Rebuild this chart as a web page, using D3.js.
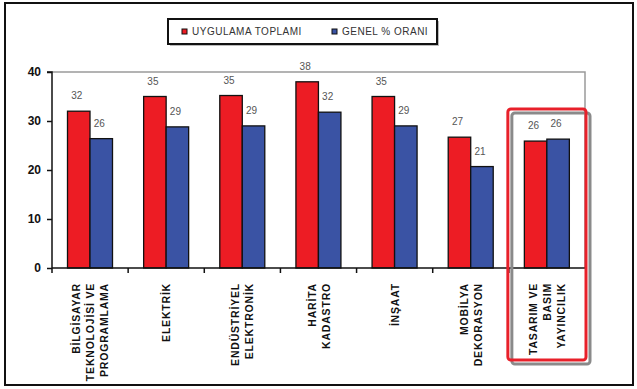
<!DOCTYPE html>
<html>
<head>
<meta charset="utf-8">
<script src="https://cdn.jsdelivr.net/npm/d3@7"></script>
<style>
  html, body { margin: 0; padding: 0; background: #fff; }
  svg { display: block; }
  text { font-family: "Liberation Sans", Arial, sans-serif; }
</style>
</head>
<body>
<svg id="chart" width="637" height="389"></svg>
<script>
// ---- data ----
const categories = [
  ["BİLGİSAYAR", "TEKNOLOJİSİ VE", "PROGRAMLAMA"],
  ["ELEKTRİK"],
  ["ENDÜSTRİYEL", "ELEKTRONİK"],
  ["HARİTA", "KADASTRO"],
  ["İNŞAAT"],
  ["MOBİLYA", "DEKORASYON"],
  ["TASARIM VE", "BASIM", "YAYINCILIK"]
];
const seriesNames = ["UYGULAMA TOPLAMI", "GENEL % ORANI"];
const uygulamaToplami = [32, 35, 35.2, 38, 35, 26.7, 25.9];
const genelOran = [26.4, 28.8, 29, 31.8, 29, 20.7, 26.3];
const yTicks = [0, 10, 20, 30, 40];
const highlightIndex = 6;

const colors = ["#ed1c24", "#3a53a4"];

const svg = d3.select("#chart");
const plot = { left: 52, right: 585, top: 72, bottom: 268 };

// outer border
svg.append("rect").attr("x", 5).attr("y", 3).attr("width", 628).attr("height", 382)
  .attr("fill", "#fff").attr("stroke", "#111").attr("stroke-width", 2);

const catKeys = categories.map((c, i) => i);
const x0 = d3.scaleBand().domain(catKeys).range([plot.left, plot.right]).padding(0);
const x1 = d3.scaleBand().domain([0, 1]).range([15.5, 60.5]).padding(0);
const y = d3.scaleLinear().domain([0, 40]).range([plot.bottom, plot.top]);

// plot frame (gray top/right)
svg.append("path")
  .attr("d", `M${plot.left},${y(40)}H${plot.right}V${plot.bottom}`)
  .attr("fill", "none").attr("stroke", "#9a9a9a").attr("stroke-width", 1.5);

// bars
const data = catKeys.map(i => [uygulamaToplami[i], genelOran[i]]);
const groups = svg.append("g").selectAll("g").data(data).join("g")
  .attr("transform", (d, i) => `translate(${x0(i)},0)`);

groups.selectAll("rect").data(d => d.map((v, s) => ({ v, s }))).join("rect")
  .attr("x", d => x1(d.s))
  .attr("y", d => y(d.v))
  .attr("width", x1.bandwidth())
  .attr("height", d => y(0) - y(d.v))
  .attr("fill", d => colors[d.s])
  .attr("stroke", "#111").attr("stroke-width", 1.3);

groups.selectAll("text.val").data(d => d.map((v, s) => ({ v, s }))).join("text")
  .attr("class", "val")
  .attr("x", d => x1(d.s) + x1.bandwidth() / 2 - 2)
  .attr("y", d => y(d.v) - 12)
  .attr("text-anchor", "middle")
  .attr("font-size", 10)
  .attr("fill", "#555")
  .text(d => d3.format(".0f")(d.v));

// y axis
const yAxis = d3.axisLeft(y).tickValues(yTicks).tickSize(5).tickPadding(6);
const yg = svg.append("g").attr("transform", `translate(${plot.left},0)`).call(yAxis);
yg.select(".domain").attr("stroke", "#111").attr("stroke-width", 1.5)
  .attr("d", `M-5,${y(40)}H0V${plot.bottom + 5}`);
yg.selectAll(".tick line").attr("stroke", "#111").attr("stroke-width", 1.5);
yg.selectAll(".tick text").attr("font-size", 12).attr("fill", "#111")
  .attr("font-weight", "bold")
  .attr("font-family", "Liberation Sans, Arial, sans-serif");

// x axis
const xg = svg.append("g");
xg.append("line").attr("x1", plot.left).attr("x2", plot.right)
  .attr("y1", y(0)).attr("y2", y(0)).attr("stroke", "#111").attr("stroke-width", 1.5);
xg.selectAll("line.tk").data(catKeys.slice(1)).join("line").attr("class", "tk")
  .attr("x1", i => x0(i)).attr("x2", i => x0(i))
  .attr("y1", y(0)).attr("y2", y(0) + 5)
  .attr("stroke", "#111").attr("stroke-width", 1.5);

// category labels (rotated)
const lineGap = 14;
categories.forEach((lines, i) => {
  const cx = x0(i) + x0.bandwidth() / 2;
  lines.forEach((txt, j) => {
    const lx = cx + (j - (lines.length - 1) / 2) * lineGap;
    svg.append("text")
      .attr("transform", `translate(${lx},${plot.bottom + 15}) rotate(-90)`)
      .attr("text-anchor", "end")
      .attr("dominant-baseline", "central")
      .attr("font-size", 10.5)
      .attr("letter-spacing", 0.8)
      .attr("font-weight", "bold")
      .attr("fill", "#111")
      .text(txt);
  });
});

// highlight box around last category
const hx = x0(highlightIndex) - 1, hw = x0.bandwidth() + 2;
const hy = 109, hh = 251;
svg.append("rect").attr("x", hx + 4).attr("y", hy + 4).attr("width", hw).attr("height", hh)
  .attr("rx", 3).attr("fill", "none").attr("stroke", "#8a8a8a").attr("stroke-width", 3);
svg.append("rect").attr("x", hx).attr("y", hy).attr("width", hw).attr("height", hh)
  .attr("rx", 3).attr("fill", "none").attr("stroke", "#e8202a").attr("stroke-width", 3);

// legend
const lg = svg.append("g");
lg.append("rect").attr("x", 170).attr("y", 21).attr("width", 269).attr("height", 25)
  .attr("fill", "#bbb");
lg.append("rect").attr("x", 168).attr("y", 19).attr("width", 269).attr("height", 25)
  .attr("fill", "#fff").attr("stroke", "#111").attr("stroke-width", 2);
const legendX = [182, 332];
seriesNames.forEach((name, s) => {
  lg.append("rect").attr("x", legendX[s]).attr("y", 29).attr("width", 5).attr("height", 5)
    .attr("fill", colors[s]).attr("stroke", "#111").attr("stroke-width", 1);
  lg.append("text").attr("x", legendX[s] + 10).attr("y", 35)
    .attr("font-size", 10).attr("letter-spacing", 0.5).attr("fill", "#333").text(name);
});
</script>
</body>
</html>
